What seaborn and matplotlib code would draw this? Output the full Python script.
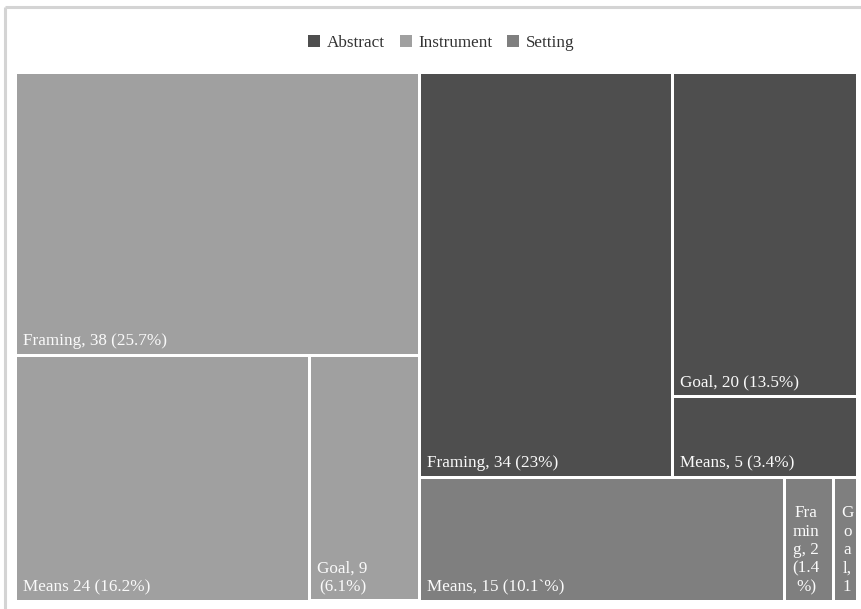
import matplotlib
matplotlib.use('Agg')
import matplotlib.pyplot as plt
from matplotlib.patches import Rectangle, Patch
from matplotlib.font_manager import FontProperties
import seaborn as sns

# Datos del treemap
group_names = ['Instrument', 'Abstract', 'Setting']

instrument_values = [38, 24, 9]
instrument_labels = ['Framing, 38 (25.7%)', 'Means 24 (16.2%)', 'Goal, 9 (6.1%)']

abstract_values = [34, 20, 5]
abstract_labels = ['Framing, 34 (23%)', 'Goal, 20 (13.5%)', 'Means, 5 (3.4%)']

setting_values = [15, 2, 1]
setting_labels = ['Means, 15 (10.1`%)', 'Framing, 2 (1.4%)', 'Goal, 1']

legend_labels = ['Abstract', 'Instrument', 'Setting']

colors = {'Abstract': '#4e4e4e', 'Instrument': '#a0a0a0', 'Setting': '#7f7f7f'}

sns.set_theme(style='white')
plt.rcParams['font.family'] = ['Liberation Serif', 'DejaVu Serif']


def worst(row, side):
    s = sum(row)
    return max(side * side * max(row) / (s * s), s * s / (side * side * min(row)))


def squarify(values, x, y, w, h):
    total = sum(values)
    areas = [v / total * w * h for v in values]
    rects = []
    i = 0
    while i < len(areas):
        side = min(w, h)
        row = [areas[i]]
        j = i + 1
        while j < len(areas) and worst(row + [areas[j]], side) <= worst(row, side):
            row.append(areas[j])
            j += 1
        s = sum(row)
        if w >= h:
            t = s / h
            yy = y
            for a in row:
                rects.append((x, yy, t, a / t))
                yy += a / t
            x += t
            w -= t
        else:
            t = s / w
            xx = x
            for a in row:
                rects.append((xx, y, a / t, t))
                xx += a / t
            y += t
            h -= t
        i = j
    return rects


def slice_x(values, x, y, w, h):
    total = sum(values)
    rects = []
    for v in values:
        ww = v / total * w
        rects.append((x, y, ww, h))
        x += ww
    return rects


fig = plt.figure(figsize=(8.62, 6.09), dpi=100)
ax = fig.add_axes([0, 0, 1, 1])
ax.set_xlim(0, 862)
ax.set_ylim(609, 0)
ax.axis('off')

renderer = fig.canvas.get_renderer()
fp = FontProperties(family='Liberation Serif', size=12.3)


def text_w(s):
    return renderer.get_text_width_height_descent(s, fp, ismath=False)[0]


def wrap(label, maxw):
    lines = []
    cur = ''
    for word in label.split(' '):
        cand = word if cur == '' else cur + ' ' + word
        if text_w(cand) <= maxw:
            cur = cand
            continue
        if cur:
            lines.append(cur)
            cur = ''
        # palabra demasiado larga: cortar por caracteres
        for ch in word:
            if cur and text_w(cur + ch) > maxw:
                lines.append(cur)
                cur = ch
            else:
                cur += ch
    if cur:
        lines.append(cur)
    return '\n'.join(lines)


group_values = [sum(instrument_values), sum(abstract_values), sum(setting_values)]
leaf_values = {'Instrument': instrument_values, 'Abstract': abstract_values, 'Setting': setting_values}
leaf_labels = {'Instrument': instrument_labels, 'Abstract': abstract_labels, 'Setting': setting_labels}

gap = 1.5
pad = 6
group_rects = squarify(group_values, 16, 72.5, 842, 528.5)
for name, (gx, gy, gw, gh) in zip(group_names, group_rects):
    if name == 'Setting':
        # en el original las hojas de Setting van una al lado de otra
        rects = slice_x(leaf_values[name], gx, gy, gw, gh)
    else:
        rects = squarify(leaf_values[name], gx, gy, gw, gh)
    for (x, y, w, h), lab in zip(rects, leaf_labels[name]):
        x, y, w, h = x + gap, y + gap, w - 2 * gap, h - 2 * gap
        ax.add_patch(Rectangle((x, y), w, h, facecolor=colors[name], edgecolor='none'))
        ax.text(x + pad, y + h - 8.5, wrap(lab, w - 2 * pad), color='#fafafa',
                fontproperties=fp, ha='left', va='baseline', multialignment='center')

# marco gris claro
ax.plot([5.5, 5.5], [609, 7], color='#d4d4d4', lw=2.2, solid_capstyle='butt')
ax.plot([5.5, 862], [7, 7], color='#d4d4d4', lw=2.2, solid_capstyle='butt')

handles = [Patch(facecolor=colors[n], edgecolor='none') for n in legend_labels]
fig.legend(handles, legend_labels, loc='center', bbox_to_anchor=(441.5 / 862, 1 - 43 / 609),
           ncol=3, frameon=False, prop=FontProperties(family='Liberation Serif', size=12.3),
           handlelength=0.7, handleheight=0.7, handletextpad=0.4, columnspacing=0.85,
           labelcolor='#333333')

fig.savefig('out.png', dpi=100)
plt.close()
